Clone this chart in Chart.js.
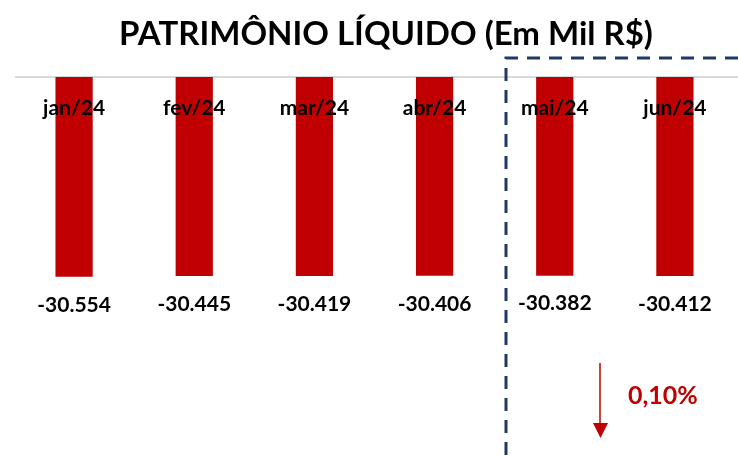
<!DOCTYPE html>
<html>
<head>
<meta charset="utf-8">
<script src="https://cdn.jsdelivr.net/npm/chart.js@4/dist/chart.umd.min.js"></script>
<style>
  html, body { margin: 0; padding: 0; background: #fff; }
  #wrap { width: 738px; height: 456px; }
</style>
</head>
<body>
<div id="wrap"><canvas id="pl-chart"></canvas></div>
<script>
const months = ["jan/24", "fev/24", "mar/24", "abr/24", "mai/24", "jun/24"];
const values = [-30554, -30445, -30419, -30406, -30382, -30412];
const titleText = "PATRIMÔNIO LÍQUIDO (Em Mil R$)";
const changeText = "0,10%";

const RED = "#c00000";
const NAVY = "#203864";
const FONT = "Lato, 'Open Sans', sans-serif";

// -30554 -> "-30.554"
const fmt = (v) => {
    const s = Math.abs(v).toString().replace(/\B(?=(\d{3})+(?!\d))/g, ".");
    return (v < 0 ? "-" : "") + s;
};

// draws title, top line, month + value labels, dashed box and arrow
const decor = {
    id: "decor",
    beforeDatasetsDraw(chart) {
        const { ctx, chartArea } = chart;
        ctx.save();
        ctx.strokeStyle = "#d9d9d9";
        ctx.lineWidth = 2;
        ctx.beginPath();
        ctx.moveTo(15, chartArea.top);
        ctx.lineTo(738, chartArea.top);
        ctx.stroke();
        ctx.restore();
    },
    afterDatasetsDraw(chart) {
        const { ctx, chartArea } = chart;
        const meta = chart.getDatasetMeta(0);
        ctx.save();
        ctx.textAlign = "center";
        ctx.textBaseline = "middle";
        ctx.fillStyle = "#000";

        ctx.font = "bold 33px " + FONT;
        ctx.fillText(titleText, 386, 34);

        ctx.font = "bold 21px " + FONT;
        meta.data.forEach((bar, i) => {
            ctx.fillText(months[i], bar.x, chartArea.top + 31);
            ctx.fillText(fmt(values[i]), bar.x, bar.y + 28);
        });

        // dashed box around the last two months
        ctx.strokeStyle = NAVY;
        ctx.lineWidth = 3;
        ctx.setLineDash([13, 9]);
        ctx.beginPath();
        ctx.moveTo(738, 58);
        ctx.lineTo(506, 58);
        ctx.lineTo(506, 456);
        ctx.stroke();
        ctx.setLineDash([]);

        // down arrow
        ctx.strokeStyle = RED;
        ctx.fillStyle = RED;
        ctx.lineWidth = 1.5;
        ctx.beginPath();
        ctx.moveTo(600, 363);
        ctx.lineTo(600, 425);
        ctx.stroke();
        ctx.beginPath();
        ctx.moveTo(593, 423);
        ctx.lineTo(608, 423);
        ctx.lineTo(600.5, 438);
        ctx.closePath();
        ctx.fill();

        ctx.font = "bold 25px " + FONT;
        ctx.textAlign = "left";
        ctx.fillText(changeText, 628, 396);
        ctx.restore();
    }
};

new Chart(document.getElementById("pl-chart"), {
    type: "bar",
    data: {
        labels: months,
        datasets: [{
            data: values,
            backgroundColor: RED,
            categoryPercentage: 1,
            barPercentage: 0.31,
        }],
    },
    options: {
        responsive: true,
        maintainAspectRatio: false,
        animation: false,
        layout: { padding: { left: 14, right: 3, top: 77, bottom: 52 } },
        plugins: { legend: { display: false }, tooltip: { enabled: false } },
        scales: {
            x: { display: false },
            y: { display: false, min: -50000, max: 0 },
        },
    },
    plugins: [decor],
});
</script>
</body>
</html>
